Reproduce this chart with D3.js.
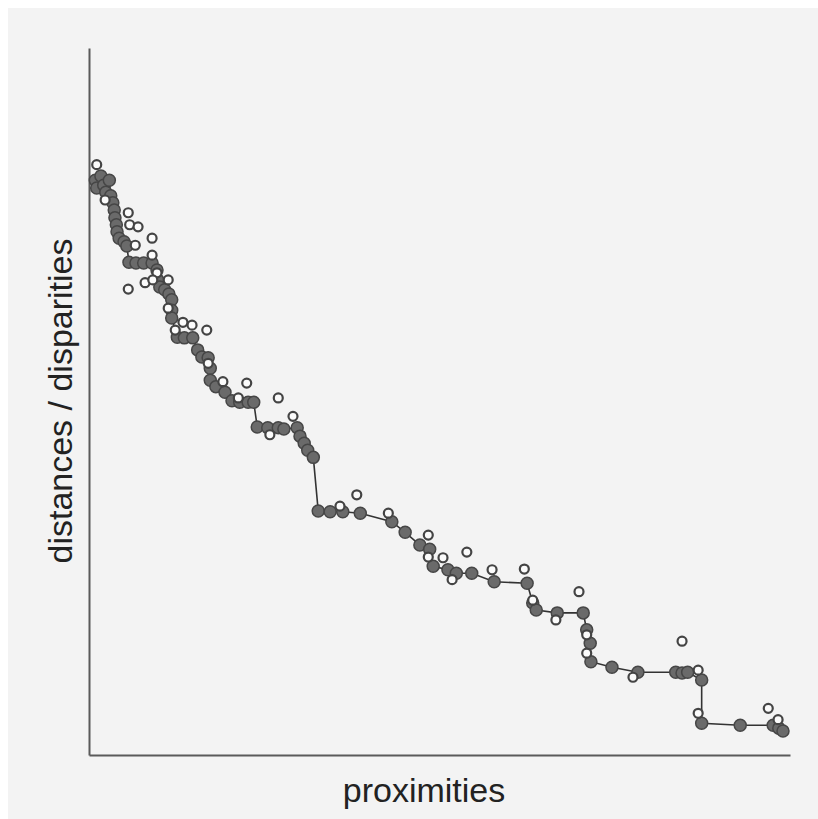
<!DOCTYPE html>
<html>
<head>
<meta charset="utf-8">
<script src="https://cdn.jsdelivr.net/npm/d3@7"></script>
<style>
  html, body { margin: 0; padding: 0; background: #ffffff; }
  svg { display: block; }
</style>
</head>
<body>
<svg id="chart" width="818" height="819"></svg>
<script>
// Shepard diagram: monotone fit (filled points joined by a step line)
// and the observed values (open points), both against proximity.

// Points lying on the monotone regression line: [proximity, value]
const fittedProximity = [0.9,1.1,1.7,2.1,2.4,2.9,3.1,3.4,3.6,3.7,3.9,4.0,4.3,5.0,5.4,5.7,6.7,7.8,9.0,9.7,9.8,10.1,10.8,11.4,11.8,11.8,11.8,12.6,13.6,14.8,15.5,16.1,17.0,17.3,17.3,18.1,19.4,20.4,21.5,22.7,23.5,24.0,25.5,27.0,27.8,29.7,30.1,30.7,31.2,32.0,32.7,34.4,36.2,38.7,43.2,45.1,47.2,48.6,49.1,51.2,52.4,54.6,57.8,62.5,63.3,63.8,66.8,70.5,71.0,71.5,71.6,74.6,78.3,83.7,84.6,85.4,87.4,87.4,92.9,97.6,98.4,99.0];
const fittedValue = [81.3,80.2,81.9,80.6,79.6,81.3,79.1,78.1,77.1,76.0,75.0,74.0,73.1,72.6,72.0,69.7,69.6,69.6,69.6,68.6,67.2,66.2,65.8,65.2,64.4,62.9,61.8,59.1,59.0,59.0,57.3,56.3,56.2,54.7,53.0,52.1,51.3,50.1,49.9,49.9,49.9,46.4,46.3,46.3,46.1,46.3,45.1,44.1,43.1,42.1,34.5,34.4,34.4,34.2,33.0,31.5,29.7,29.1,26.7,26.2,25.7,25.7,24.5,24.3,21.5,20.5,20.1,20.1,17.7,15.8,13.2,12.4,11.7,11.7,11.6,11.7,10.6,4.5,4.2,4.2,3.8,3.4];

// Observed points drawn as open circles
const observedProximity = [1.1,2.3,5.6,5.8,7.0,9.0,9.0,6.6,9.7,8.0,5.6,9.1,11.3,11.3,13.4,14.7,16.8,12.3,17.0,19.1,22.5,21.3,27.0,25.8,29.1,35.8,38.2,42.7,48.4,48.4,50.5,51.8,53.9,57.5,62.1,63.3,66.6,69.9,71.0,71.0,77.6,84.6,86.9,86.9,96.9,98.3];
const observedValue = [83.5,78.5,76.7,75.0,74.7,73.1,70.7,72.1,68.2,66.8,65.9,67.2,67.2,63.2,61.2,60.8,60.1,60.1,55.4,52.8,52.6,50.5,50.5,45.3,47.9,35.2,36.8,34.2,31.1,28.0,27.9,24.8,28.7,26.2,26.3,21.9,19.1,23.1,17.0,14.4,11.0,16.1,12.0,5.9,6.6,5.0];

const xLabel = "proximities";
const yLabel = "distances / disparities";

const fitted = fittedProximity.map((p, i) => ({ p, v: fittedValue[i] }));
const observed = observedProximity.map((p, i) => ({ p, v: observedValue[i] }));

const svg = d3.select("#chart");

// paper
svg.append("rect")
  .attr("x", 8).attr("y", 8)
  .attr("width", 810).attr("height", 811)
  .attr("fill", "#f3f3f3");

const x = d3.scaleLinear().domain([0, 100]).range([89, 790]);
const y = d3.scaleLinear().domain([0, 100]).range([755, 48]);

// axes: plain lines without ticks
const xAxis = d3.axisBottom(x).tickValues([]).tickSizeOuter(0);
const yAxis = d3.axisLeft(y).tickValues([]).tickSizeOuter(0);

svg.append("g")
  .attr("transform", `translate(0,${y(0)})`)
  .call(xAxis)
  .call(g => g.select(".domain").attr("stroke", "#5a5a5a").attr("stroke-width", 2));

svg.append("g")
  .attr("transform", `translate(${x(0)},0)`)
  .call(yAxis)
  .call(g => g.select(".domain").attr("stroke", "#5a5a5a").attr("stroke-width", 2));

// monotone regression line
const line = d3.line().x(d => x(d.p)).y(d => y(d.v));
svg.append("path")
  .datum(fitted)
  .attr("d", line)
  .attr("fill", "none")
  .attr("stroke", "#333")
  .attr("stroke-width", 1.6);

svg.append("g")
  .selectAll("circle")
  .data(fitted)
  .join("circle")
  .attr("cx", d => x(d.p))
  .attr("cy", d => y(d.v))
  .attr("r", 6)
  .attr("fill", "#6a6a6a")
  .attr("stroke", "#464646")
  .attr("stroke-width", 1.5);

svg.append("g")
  .selectAll("circle")
  .data(observed)
  .join("circle")
  .attr("cx", d => x(d.p))
  .attr("cy", d => y(d.v))
  .attr("r", 4.5)
  .attr("fill", "#fbfbfb")
  .attr("stroke", "#444")
  .attr("stroke-width", 2.2);

// axis titles
svg.append("text")
  .attr("x", 424)
  .attr("y", 802)
  .attr("text-anchor", "middle")
  .attr("font-family", "Liberation Sans, Arial, sans-serif")
  .attr("font-size", 34)
  .attr("fill", "#222")
  .text(xLabel);

svg.append("text")
  .attr("transform", `translate(72,${401}) rotate(-90)`)
  .attr("text-anchor", "middle")
  .attr("font-family", "Liberation Sans, Arial, sans-serif")
  .attr("font-size", 34)
  .attr("fill", "#222")
  .text(yLabel);
</script>
</body>
</html>
